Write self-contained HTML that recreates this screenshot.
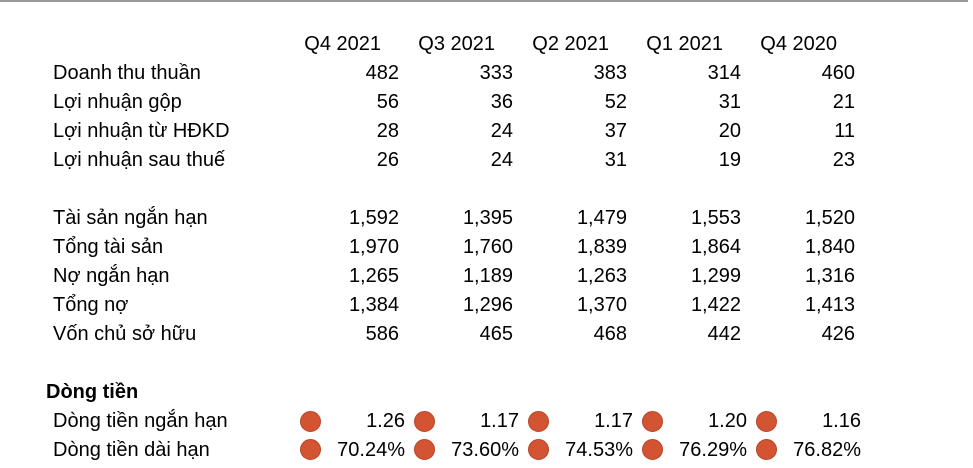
<!DOCTYPE html>
<html><head><meta charset="utf-8"><style>
body{margin:0;width:973px;height:468px;background:#fff;position:relative;overflow:hidden;font-family:"Liberation Sans",sans-serif;font-size:20px;color:#000}
.t{position:absolute;white-space:nowrap;line-height:22px}
.r{text-align:right}
.dot{position:absolute;width:21px;height:21px;border-radius:50%;background:#d25433;border:1px solid #b8462a;box-sizing:border-box}
#topline{position:absolute;left:0;top:0;width:968px;height:2px;background:#9a9a9a}
</style></head><body>
<div id="topline"></div>
<div id="root"></div>
<script>
const periods=["Q4 2021","Q3 2021","Q2 2021","Q1 2021","Q4 2020"];
const rowLabels=["Doanh thu thuần","Lợi nhuận gộp","Lợi nhuận từ HĐKD","Lợi nhuận sau thuế","","Tài sản ngắn hạn","Tổng tài sản","Nợ ngắn hạn","Tổng nợ","Vốn chủ sở hữu"];
const rowValues=[
["482","333","383","314","460"],
["56","36","52","31","21"],
["28","24","37","20","11"],
["26","24","31","19","23"],
null,
["1,592","1,395","1,479","1,553","1,520"],
["1,970","1,760","1,839","1,864","1,840"],
["1,265","1,189","1,263","1,299","1,316"],
["1,384","1,296","1,370","1,422","1,413"],
["586","465","468","442","426"]];
const cashLabels=["Dòng tiền ngắn hạn","Dòng tiền dài hạn"];
const cashValues=[["1.26","1.17","1.17","1.20","1.16"],["70.24%","73.60%","74.53%","76.29%","76.82%"]];
const root=document.getElementById('root');
function txt(s,x,y,right,w){const d=document.createElement('div');d.className='t'+(right?' r':'');d.textContent=s;
if(right){d.style.left=(x-w)+'px';d.style.width=w+'px';}else d.style.left=x+'px';
d.style.top=(y-11)+'px';root.appendChild(d);return d;}
const step=114;
periods.forEach((p,i)=>{const d=txt(p,381+i*step,44,true,110);

});
rowLabels.forEach((l,r)=>{if(!rowValues[r])return;const y=73+r*29;
const d=txt(l,53,y,false);


rowValues[r].forEach((v,i)=>{const c=txt(v,399+i*step,y,true,90);

});});
const h=txt("Dòng tiền",46,392,false);h.style.fontWeight='bold';


cashLabels.forEach((l,r)=>{const y=421+r*28.5;
const d=txt(l,53,y,false);


cashValues[r].forEach((v,i)=>{const dot=document.createElement('div');dot.className='dot';
dot.style.left=(300+i*step)+'px';dot.style.top=(y-10.5)+'px';


root.appendChild(dot);
const c=txt(v,405+i*step,y,true,100);

});});
</script>
</body></html>
